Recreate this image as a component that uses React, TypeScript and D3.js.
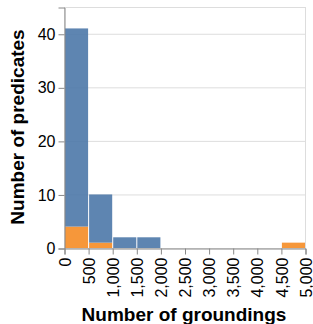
import React, { useEffect, useRef } from 'react';
import * as d3 from 'd3';

// histogram bins (start of each 500-wide bin)
const binStarts = [0, 500, 1000, 1500, 2000, 2500, 3000, 3500, 4000, 4500];
const blueCounts = [37, 9, 2, 2, 0, 0, 0, 0, 0, 0];
const orangeCounts = [4, 1, 0, 0, 0, 0, 0, 0, 0, 1];
const xTicks = [0, 500, 1000, 1500, 2000, 2500, 3000, 3500, 4000, 4500, 5000];
const yTicks = [0, 10, 20, 30, 40];

const App = () => {
  const ref = useRef<SVGSVGElement>(null);

  useEffect(() => {
    const svg = d3.select(ref.current);
    svg.selectAll('*').remove();

    const width = 313;
    const height = 324;
    const left = 64, right = 305, top = 7, bottom = 248;
    const font = 'Liberation Sans, Arial, sans-serif';

    const x = d3.scaleLinear().domain([0, 5000]).range([left, right]);
    const y = d3.scaleLinear().domain([0, 45]).range([bottom, top]);

    // grid
    svg.append('g')
      .selectAll('line')
      .data(yTicks)
      .enter()
      .append('line')
      .attr('x1', left).attr('x2', right)
      .attr('y1', d => y(d) + 0.5).attr('y2', d => y(d) + 0.5)
      .attr('stroke', '#ddd');

    // view border
    svg.append('rect')
      .attr('x', left + 0.5).attr('y', top + 0.5)
      .attr('width', right - left).attr('height', bottom - top)
      .attr('fill', 'none').attr('stroke', '#ddd');

    const data = binStarts.map((b, i) => ({ b, blue: blueCounts[i], orange: orangeCounts[i] }));

    // stacked bars: orange at bottom, blue on top
    const bars = svg.append('g');
    data.forEach(d => {
      const x0 = x(d.b) + 1;
      const w = x(d.b + 500) - x(d.b) - 1;
      if (d.orange > 0) {
        bars.append('rect')
          .attr('x', x0).attr('width', w)
          .attr('y', y(d.orange)).attr('height', y(0) - y(d.orange))
          .attr('fill', '#f58518').attr('fill-opacity', 0.85);
      }
      if (d.blue > 0) {
        bars.append('rect')
          .attr('x', x0).attr('width', w)
          .attr('y', y(d.orange + d.blue)).attr('height', y(d.orange) - y(d.orange + d.blue))
          .attr('fill', '#4c78a8').attr('fill-opacity', 0.9);
      }
    });

    // x axis
    const xAxis = svg.append('g')
      .attr('transform', `translate(0.5, ${bottom + 0.5})`)
      .call(d3.axisBottom(x).tickValues(xTicks).tickFormat(d3.format(',')).tickSizeOuter(0).tickSize(6));
    xAxis.select('.domain').attr('stroke', '#888');
    xAxis.selectAll('.tick line').attr('stroke', '#888');
    xAxis.selectAll('.tick text')
      .attr('transform', 'rotate(-90)')
      .attr('x', -9).attr('y', 0).attr('dy', '0.35em')
      .attr('text-anchor', 'end')
      .attr('font-family', font).attr('font-size', 16).attr('fill', '#000');

    // y axis
    const yAxis = svg.append('g')
      .attr('transform', `translate(${left + 0.5}, 0.5)`)
      .call(d3.axisLeft(y).tickValues(yTicks).tickSizeOuter(0).tickSize(6));
    yAxis.select('.domain').attr('stroke', '#888');
    yAxis.selectAll('.tick line').attr('stroke', '#888');
    yAxis.selectAll('.tick text')
      .attr('x', -9)
      .attr('font-family', font).attr('font-size', 16).attr('fill', '#000');

    // titles
    svg.append('text')
      .attr('x', 184).attr('y', 321)
      .attr('text-anchor', 'middle')
      .attr('font-family', font).attr('font-size', 19).attr('font-weight', 'bold')
      .text('Number of groundings');

    svg.append('text')
      .attr('transform', `translate(24, 127) rotate(-90)`)
      .attr('text-anchor', 'middle')
      .attr('font-family', font).attr('font-size', 19).attr('font-weight', 'bold')
      .text('Number of predicates');

    svg.attr('width', width).attr('height', height);
  }, []);

  return <svg ref={ref} style={{ position: 'absolute', left: 0, top: 0 }} />;
};

export default App;
